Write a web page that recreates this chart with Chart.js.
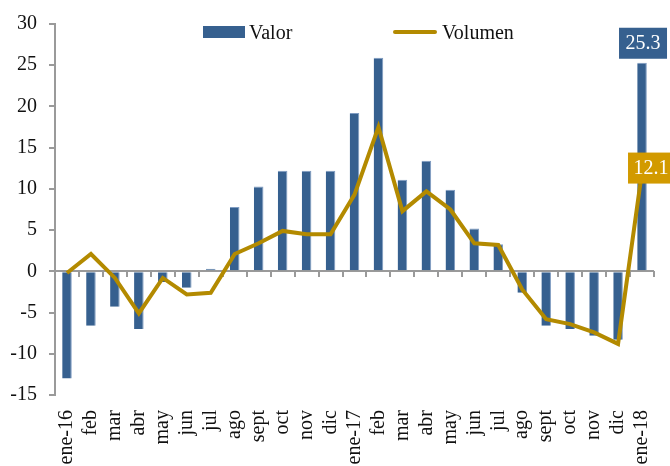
<!DOCTYPE html>
<html>
<head>
<meta charset="utf-8">
<script src="https://cdn.jsdelivr.net/npm/chart.js@4.4.1/dist/chart.umd.min.js"></script>
<style>
  html, body { margin: 0; padding: 0; background: #fff; overflow: hidden; }
  #wrap { position: relative; width: 670px; height: 466px; }
  .leg { position: absolute; font-family: "Liberation Serif", serif; font-size: 20px; color: #111; line-height: 20px; }
  .swatch { position: absolute; }
</style>
</head>
<body>
<div id="wrap">
  <canvas id="myChart" width="670" height="466"></canvas>
  <div class="swatch" style="left:203px;top:26px;width:42px;height:12px;background:#36608f"></div>
  <div class="leg" style="left:249px;top:22px">Valor</div>
  <div class="swatch" style="left:393px;top:30px;width:44px;height:4px;border-radius:2px;background:#b38a00"></div>
  <div class="leg" style="left:442px;top:22px">Volumen</div>
</div>
<script>
const months = ['ene-16', 'feb', 'mar', 'abr', 'may', 'jun', 'jul', 'ago', 'sept', 'oct', 'nov', 'dic',
  'ene-17', 'feb', 'mar', 'abr', 'may', 'jun', 'jul', 'ago', 'sept', 'oct', 'nov', 'dic', 'ene-18'];

const valor = [-13.0, -6.6, -4.3, -7.0, -1.3, -2.0, 0.3, 7.8, 10.3, 12.2, 12.2, 12.2,
  19.2, 25.9, 11.1, 13.4, 9.9, 5.2, 3.3, -2.6, -6.6, -7.0, -7.8, -8.3, 25.3];

const volumen = [-0.2, 2.1, -0.8, -5.1, -0.8, -2.8, -2.6, 2.1, 3.4, 4.9, 4.5, 4.5,
  9.3, 17.5, 7.3, 9.7, 7.5, 3.4, 3.2, -2.2, -5.8, -6.4, -7.4, -8.8, 12.1];

const yTicks = { min: -15, max: 30, step: 5 };

const blue = '#36608f';
const gold = '#b38a00';
const goldBox = '#d29a00';
const serif = 'Liberation Serif';

// etiquetas del último dato (caja de color)
const lastLabels = {
  id: 'lastLabels',
  afterDatasetsDraw(chart) {
    const c = chart.ctx;
    c.save();
    c.font = '20px "' + serif + '"';
    c.textAlign = 'center';
    c.textBaseline = 'middle';

    const bar = chart.getDatasetMeta(0).data[valor.length - 1];
    c.fillStyle = blue;
    c.fillRect(bar.x - 23, bar.y - 35, 48, 31);
    c.fillStyle = '#fff';
    c.fillText(valor[valor.length - 1].toFixed(1), bar.x + 1, bar.y - 19);

    const pt = chart.getDatasetMeta(1).data[volumen.length - 1];
    c.fillStyle = goldBox;
    c.fillRect(pt.x - 14, pt.y - 19, 48, 31);
    c.fillStyle = '#fff';
    c.fillText(volumen[volumen.length - 1].toFixed(1), pt.x + 9, pt.y - 3);
    c.restore();
  }
};

const ctx = document.getElementById('myChart');

new Chart(ctx, {
  type: 'bar',
  data: {
    labels: months,
    datasets: [{
      label: 'Valor',
      data: valor,
      backgroundColor: blue,
      borderColor: '#7f9cc2',
      borderWidth: { right: 1, top: 1, left: 0, bottom: 0 },
      barPercentage: 0.4,
      categoryPercentage: 1,
      order: 1
    }, {
      type: 'line',
      label: 'Volumen',
      data: volumen,
      borderColor: gold,
      borderWidth: 4,
      pointRadius: 0,
      tension: 0,
      borderJoinStyle: 'miter',
      order: 0
    }]
  },
  options: {
    responsive: false,
    animation: false,
    layout: { padding: { top: 11, right: 16, left: 0, bottom: 0 } },
    plugins: {
      legend: { display: false },
      tooltip: { enabled: false }
    },
    scales: {
      x: {
        offset: true,
        grid: { display: false, drawTicks: false },
        border: { display: false },
        ticks: {
          autoSkip: false,
          minRotation: 90,
          maxRotation: 90,
          padding: 15,
          color: '#111',
          font: { family: serif, size: 20 }
        },
        afterFit(scale) {
          scale.height = 71;
          scale.paddingLeft = 0;
          scale.paddingRight = 0;
        }
      },
      xz: {
        axis: 'x',
        type: 'category',
        labels: months,
        position: { y: 0 },
        offset: true,
        grid: { offset: true, drawOnChartArea: false, tickLength: 6, color: '#9a9a9a', lineWidth: 2 },
        border: { display: false },
        ticks: { display: false },
        afterFit(scale) {
          scale.paddingLeft = 0;
          scale.paddingRight = 0;
        }
      },
      y: {
        min: yTicks.min,
        max: yTicks.max,
        ticks: {
          stepSize: yTicks.step,
          padding: 12,
          color: '#111',
          font: { family: serif, size: 20 }
        },
        grid: {
          color: c => c.tick && c.tick.value === 0 ? '#9a9a9a' : 'rgba(0,0,0,0)',
          tickColor: '#9a9a9a',
          tickLength: 6,
          lineWidth: 2
        },
        border: { color: '#9a9a9a', width: 2 },
        afterFit(scale) { scale.width = 55; }
      }
    }
  },
  plugins: [lastLabels]
});
</script>
</body>
</html>
